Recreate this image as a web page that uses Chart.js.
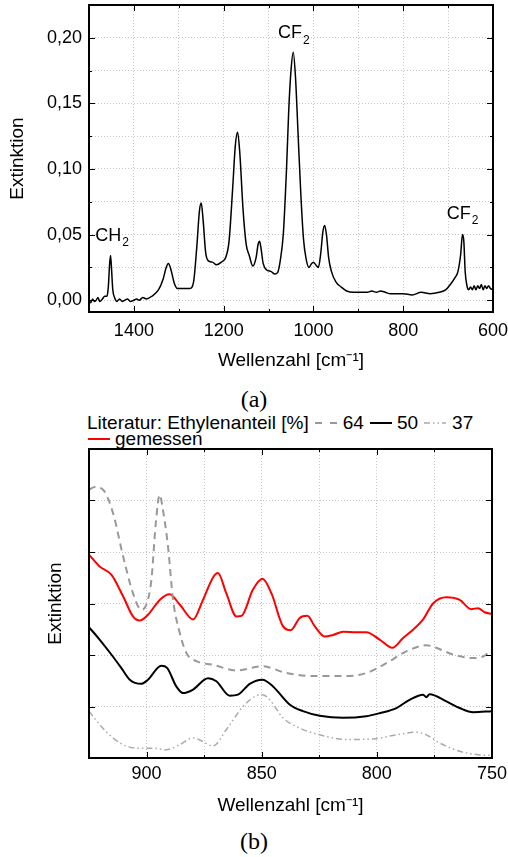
<!DOCTYPE html>
<html>
<head>
<meta charset="utf-8">
<script src="https://cdn.jsdelivr.net/npm/chart.js@4"></script>
<style>
  body { margin: 0; background: #fff; width: 508px; height: 857px; position: relative; overflow: hidden;
         font-family: "Liberation Sans", Arial, sans-serif; color: #000; }
  canvas { position: absolute; left: 0; }
  #chartA { top: 0; }
  #chartB { top: 440px; }
  .cap { position: absolute; left: 0; width: 508px; text-align: center; font-family: "Liberation Serif", serif;
         font-size: 24px; line-height: 24px; }
  .leg { position: absolute; font-size: 19px; line-height: 19px; white-space: nowrap; display: flex; align-items: center; }
  .leg svg { display: block; }
</style>
</head>
<body>
<canvas id="chartA" width="508" height="375"></canvas>
<div class="cap" style="top:387px;">(a)</div>

<div class="leg" style="left:87px; top:413px;">
  <span>Literatur: Ethylenanteil [%]</span>
  <svg width="34" height="10"><line x1="6" y1="5" x2="28" y2="5" stroke="#999" stroke-width="2" stroke-dasharray="7,8"/></svg>
  <span>64</span>
  <svg width="33" height="10"><line x1="6" y1="5" x2="28" y2="5" stroke="#000" stroke-width="2"/></svg>
  <span>50</span>
  <svg width="34" height="10"><line x1="6" y1="5" x2="28" y2="5" stroke="#aaa" stroke-width="1.5" stroke-dasharray="6,3,1.5,3,1.5,3"/></svg>
  <span>37</span>
</div>
<div class="leg" style="left:88px; top:429px;">
  <svg width="27" height="10"><line x1="0" y1="5" x2="22" y2="5" stroke="#f00" stroke-width="2"/></svg>
  <span>gemessen</span>
</div>

<canvas id="chartB" width="508" height="382"></canvas>
<div class="cap" style="top:829px;">(b)</div>

<script>
  // (a) full spectrum
  const topWavenumber = [1500, 1496, 1492, 1488, 1484, 1480, 1476, 1470, 1465, 1460, 1457, 1454, 1452, 1450, 1447,
    1443, 1438, 1432, 1426, 1420, 1414, 1408, 1400, 1394, 1388, 1380, 1372, 1360, 1345, 1335, 1328, 1323, 1318, 1310,
    1303, 1290, 1275, 1267, 1260, 1254, 1250, 1246, 1240, 1234, 1225, 1216, 1205, 1195, 1188, 1180, 1174, 1169, 1164,
    1157, 1150, 1143, 1135, 1128, 1123, 1120, 1117, 1112, 1104, 1095, 1086, 1080, 1074, 1067, 1060, 1055, 1050, 1045,
    1040, 1034, 1028, 1022, 1016, 1010, 1004, 1000, 995, 989, 984, 979, 975, 971, 966, 960, 950, 938, 926, 910, 895,
    880, 870, 860, 850, 840, 830, 815, 800, 780, 760, 740, 720, 705, 695, 685, 678, 672, 668, 665, 662, 658, 654, 650,
    646, 642, 638, 634, 630, 626, 622, 618, 614, 610, 606, 600];
  const topExtinction = [0.000, -0.002, 0.001, -0.001, 0.000, 0.002, -0.001, 0.001, 0.003, 0.003, 0.010, 0.028, 0.034,
    0.025, 0.008, 0.002, -0.001, 0.001, -0.001, 0.000, 0.001, -0.001, 0.000, 0.001, 0.000, 0.002, 0.001, 0.003, 0.008,
    0.016, 0.025, 0.028, 0.024, 0.013, 0.009, 0.009, 0.009, 0.014, 0.040, 0.068, 0.074, 0.062, 0.036, 0.030, 0.029,
    0.027, 0.029, 0.033, 0.045, 0.085, 0.118, 0.128, 0.112, 0.070, 0.043, 0.034, 0.026, 0.032, 0.043, 0.045, 0.040,
    0.028, 0.023, 0.022, 0.020, 0.021, 0.030, 0.051, 0.100, 0.145, 0.175, 0.189, 0.170, 0.125, 0.080, 0.046, 0.031,
    0.025, 0.028, 0.029, 0.027, 0.025, 0.035, 0.052, 0.057, 0.050, 0.032, 0.022, 0.014, 0.010, 0.007, 0.006, 0.006,
    0.006, 0.007, 0.006, 0.007, 0.006, 0.005, 0.005, 0.005, 0.004, 0.006, 0.005, 0.006, 0.008, 0.012, 0.017, 0.022,
    0.035, 0.050, 0.045, 0.022, 0.011, 0.008, 0.010, 0.008, 0.011, 0.008, 0.011, 0.009, 0.012, 0.008, 0.011, 0.009,
    0.011, 0.009, 0.008];

  // (b) zoomed region, arbitrary units
  const measWavenumber = [925, 920.4, 915.3, 910.2, 905.9, 903, 899.4, 894.3, 890, 885.6, 879.8, 875.5, 871.2, 869,
    865.4, 861, 858.8, 853.8, 849.7, 845.8, 840.8, 837.4, 833.5, 830.2, 827, 822.7, 819, 814.7, 808.9, 804.6, 798.8,
    793.3, 788.6, 784.3, 779.9, 775.6, 769.8, 764, 759, 756.1, 753.2, 750];
  const measExtinction = [3.95, 3.72, 3.56, 3.14, 2.75, 2.67, 2.78, 3.07, 3.18, 2.98, 2.69, 3.07, 3.50, 3.59, 3.20,
    2.75, 2.76, 3.27, 3.48, 3.20, 2.56, 2.48, 2.72, 2.76, 2.56, 2.36, 2.39, 2.45, 2.44, 2.44, 2.30, 2.14, 2.33, 2.49,
    2.69, 3.00, 3.12, 3.07, 2.89, 2.91, 2.83, 2.80];

  const lit50Wavenumber = [925, 920.4, 915.3, 911, 907.3, 902.3, 899.4, 893.6, 891.1, 887.1, 884.2, 879.8, 873.3,
    869.7, 863.9, 860.3, 855.2, 849.7, 845.1, 837.9, 832.1, 824.8, 814.7, 804.6, 798.8, 791.5, 785.8, 779.9, 778.5,
    777.1, 769.8, 764, 758.2, 750];
  const lit50Extinction = [2.54, 2.30, 2.01, 1.75, 1.52, 1.44, 1.52, 1.79, 1.75, 1.39, 1.26, 1.33, 1.55, 1.49, 1.21,
    1.23, 1.44, 1.52, 1.39, 1.04, 0.91, 0.82, 0.78, 0.81, 0.87, 0.97, 1.13, 1.23, 1.18, 1.24, 1.10, 0.97, 0.89, 0.91];

  const lit64Wavenumber = [925, 922.5, 918.9, 914.6, 910.2, 905.9, 902.3, 900.1, 897.9, 896, 894.3, 892.9, 890.7,
    888.5, 885.6, 882.7, 878.4, 871.2, 861, 849.7, 839.3, 827.7, 813.3, 804.6, 795.9, 787.2, 778.5, 774.2, 767,
    758.2, 753.9, 750];
  const lit64Extinction = [5.21, 5.26, 5.21, 4.76, 3.92, 3.20, 2.88, 2.98, 3.46, 4.56, 5.11, 4.82, 4.11, 3.07, 2.43,
    2.04, 1.88, 1.81, 1.70, 1.78, 1.65, 1.59, 1.59, 1.65, 1.84, 2.07, 2.19, 2.14, 2.01, 1.94, 1.97, 2.10];

  const lit37Wavenumber = [925, 920.4, 914.6, 908.8, 903, 897.2, 891.4, 885.6, 879.8, 875.5, 871.2, 865.4, 858.1,
    852.3, 849.7, 846.5, 840.8, 833.5, 824.8, 813.3, 801.7, 791.5, 782.9, 778.5, 772.7, 764, 755.4, 750];
  const lit37Extinction = [0.91, 0.65, 0.39, 0.23, 0.19, 0.19, 0.16, 0.26, 0.39, 0.32, 0.23, 0.55, 1.00, 1.21, 1.23,
    1.13, 0.78, 0.58, 0.45, 0.36, 0.37, 0.45, 0.50, 0.45, 0.29, 0.13, 0.06, 0.05];

  const topYTicks = [0, 0.025, 0.05, 0.075, 0.1, 0.125, 0.15, 0.175, 0.2, 0.225];

  const FONT = '"Liberation Sans", Arial, sans-serif';
  const pts = (xs, ys) => xs.map((x, i) => ({ x: x, y: ys[i] }));
  const near = (v, step) => Math.abs(v / step - Math.round(v / step)) < 1e-6;

  // inward tick marks on all four sides plus the black frame
  const frameTicks = {
    id: 'frameTicks',
    afterDatasetsDraw(chart, args, opts) {
      const { ctx, chartArea: a, scales: { x, y } } = chart;
      ctx.save();
      ctx.strokeStyle = '#000';
      ctx.lineWidth = 1;
      ctx.beginPath();
      x.ticks.forEach(t => {
        const px = Math.round(x.getPixelForValue(t.value)) + 0.5;
        const len = opts.majorX(t.value) ? 6 : 3;
        ctx.moveTo(px, a.bottom); ctx.lineTo(px, a.bottom - len);
        ctx.moveTo(px, a.top); ctx.lineTo(px, a.top + len);
      });
      y.ticks.forEach(t => {
        const py = Math.round(y.getPixelForValue(t.value)) + 0.5;
        const len = opts.majorY(t.value) ? 6 : 3;
        ctx.moveTo(a.left, py); ctx.lineTo(a.left + len, py);
        ctx.moveTo(a.right, py); ctx.lineTo(a.right - len, py);
      });
      ctx.stroke();
      ctx.lineWidth = 2;
      ctx.strokeRect(a.left, a.top, a.width, a.height);
      ctx.restore();
    }
  };

  // CH2 / CF2 peak labels with subscripts
  const peakLabels = {
    id: 'peakLabels',
    afterDatasetsDraw(chart, args, opts) {
      const { ctx, scales: { x, y } } = chart;
      ctx.save();
      ctx.fillStyle = '#000';
      ctx.textBaseline = 'middle';
      ctx.textAlign = 'left';
      opts.items.forEach(it => {
        const px = x.getPixelForValue(it.x), py = y.getPixelForValue(it.y);
        ctx.font = '18px ' + FONT;
        ctx.fillText(it.text, px, py);
        const w = ctx.measureText(it.text).width;
        ctx.font = '12px ' + FONT;
        ctx.fillText(it.sub, px + w + 1, py + 7);
      });
      ctx.restore();
    }
  };

  const gridOpts = { color: '#c4c4c4', lineWidth: 1, drawTicks: false };
  const borderOpts = { display: false, dash: [1, 2] };
  const tickFont = { family: FONT, size: 18 };
  const titleFont = { family: FONT, size: 19 };

  new Chart(document.getElementById('chartA'), {
    type: 'line',
    data: {
      datasets: [{
        data: pts(topWavenumber, topExtinction),
        borderColor: '#000',
        borderWidth: 1.5,
        pointRadius: 0,
        fill: false,
        cubicInterpolationMode: 'monotone'
      }]
    },
    options: {
      responsive: false,
      animation: false,
      layout: { padding: { top: 5, right: 15, left: 0, bottom: 0 } },
      plugins: {
        legend: { display: false },
        tooltip: { enabled: false },
        frameTicks: { majorX: v => near(v, 200), majorY: v => near(v, 0.05) },
        peakLabels: {
          items: [
            { text: 'CH', sub: '2', x: 1486, y: 0.049 },
            { text: 'CF', sub: '2', x: 1079, y: 0.2035 },
            { text: 'CF', sub: '2', x: 703, y: 0.0656 }
          ]
        }
      },
      scales: {
        x: {
          type: 'linear', reverse: true, min: 600, max: 1500,
          grid: gridOpts, border: borderOpts,
          ticks: { stepSize: 100, padding: 8, autoSkip: false, maxRotation: 0, color: '#000', font: tickFont,
                   callback: v => near(v, 200) ? String(v) : '' },
          title: { display: true, text: 'Wellenzahl [cm⁻¹]', color: '#000', font: titleFont, padding: { top: 0, bottom: 3 } },
          afterFit: s => { s.height = 63; s.paddingLeft = 0; s.paddingRight = 0; }
        },
        y: {
          type: 'linear', min: -0.009, max: 0.225,
          grid: gridOpts, border: borderOpts,
          afterBuildTicks: s => { s.ticks = topYTicks.map(v => ({ value: v })); },
          ticks: { padding: 7, autoSkip: false, color: '#000', font: tickFont,
                   callback: v => near(v, 0.05) ? v.toFixed(2).replace('.', ',') : '' },
          title: { display: true, text: 'Extinktion', color: '#000', font: titleFont, padding: { top: 6, bottom: 0 } },
          afterFit: s => { s.width = 89; s.paddingTop = 0; s.paddingBottom = 0; }
        }
      }
    },
    plugins: [frameTicks, peakLabels]
  });

  const lineStyle = (data, color, width, dash) => ({
    data: data, borderColor: color, borderWidth: width, borderDash: dash || [],
    pointRadius: 0, fill: false, cubicInterpolationMode: 'monotone'
  });

  new Chart(document.getElementById('chartB'), {
    type: 'line',
    data: {
      datasets: [
        lineStyle(pts(lit37Wavenumber, lit37Extinction), '#aaaaaa', 1.5, [6, 3, 1.5, 3, 1.5, 3]),
        lineStyle(pts(lit64Wavenumber, lit64Extinction), '#999999', 2, [7, 5]),
        lineStyle(pts(lit50Wavenumber, lit50Extinction), '#000000', 2),
        lineStyle(pts(measWavenumber, measExtinction), '#ff0000', 2)
      ]
    },
    options: {
      responsive: false,
      animation: false,
      layout: { padding: { top: 9, right: 16, left: 0, bottom: 0 } },
      plugins: {
        legend: { display: false },
        tooltip: { enabled: false },
        frameTicks: { majorX: v => near(v, 50), majorY: () => true }
      },
      scales: {
        x: {
          type: 'linear', reverse: true, min: 750, max: 925,
          grid: gridOpts, border: borderOpts,
          ticks: { stepSize: 25, padding: 5, autoSkip: false, maxRotation: 0, color: '#000', font: tickFont,
                   callback: v => near(v, 50) ? String(v) : '' },
          title: { display: true, text: 'Wellenzahl [cm⁻¹]', color: '#000', font: titleFont, padding: { top: 0, bottom: 5 } },
          afterFit: s => { s.height = 64; s.paddingLeft = 0; s.paddingRight = 0; }
        },
        y: {
          type: 'linear', min: 0, max: 6,
          grid: gridOpts, border: borderOpts,
          ticks: { stepSize: 1, display: false },
          title: { display: true, text: 'Extinktion', color: '#000', font: titleFont, padding: { top: 44, bottom: 0 } },
          afterFit: s => { s.width = 89; s.paddingTop = 0; s.paddingBottom = 0; }
        }
      }
    },
    plugins: [frameTicks]
  });
</script>
</body>
</html>
